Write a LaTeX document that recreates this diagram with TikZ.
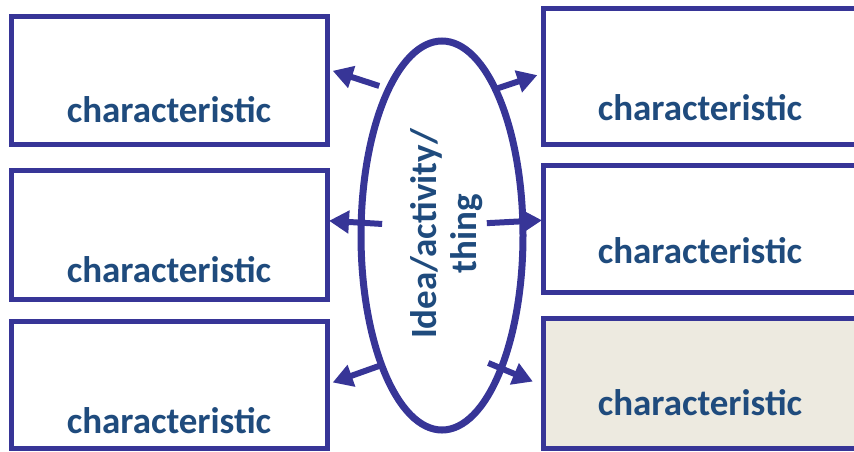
\documentclass[tikz,border=0pt]{standalone}
\usepackage{fontspec}
\setmainfont{Carlito}
\usetikzlibrary{arrows.meta,shapes.geometric}
\definecolor{lineblue}{HTML}{373597}
\definecolor{textblue}{HTML}{1F4B7D}
\definecolor{sandfill}{HTML}{EDEAE0}

\begin{document}
\begin{tikzpicture}[x=1pt,y=-1pt,
 box/.style={draw=lineblue,line width=5pt,minimum width=316pt,inner sep=0pt,outer sep=0pt},
 lbl/.style={anchor=base,text=textblue,font=\bfseries\fontsize{37}{40}\selectfont},
 arr/.style={-{Triangle[length=20pt,width=22pt]},line width=6pt,lineblue}]
\useasboundingbox (0,0) rectangle (854,451);
% left column
\node[box,minimum height=128pt] (lt) at (169,80) {};
\node[box,minimum height=129pt] (lm) at (169,234.5) {};
\node[box,minimum height=127pt] (lb) at (169,384.5) {};
% right column
\node[box,minimum height=136pt] (rt) at (701,76) {};
\node[box,minimum height=127pt] (rm) at (701,228.5) {};
\node[box,fill=sandfill,minimum height=130pt] (rb) at (701,383) {};
\node[lbl] (lt-txt) at (169,122) {characteristic};
\node[lbl] (lm-txt) at (169,282) {characteristic};
\node[lbl] (lb-txt) at (169,433) {characteristic};
\node[lbl] (rt-txt) at (700,120) {characteristic};
\node[lbl] (rm-txt) at (700,263) {characteristic};
\node[lbl] (rb-txt) at (700,415) {characteristic};
% centre
\node[ellipse,draw=lineblue,line width=7pt,minimum width=162pt,minimum height=389pt,
 inner sep=0pt,outer sep=0pt] (idea) at (442,235.5) {};
\node[lbl,anchor=center,rotate=90,align=center] (idea-txt) at (447,234) {Idea/activity/\\thing};
\draw[arr,shorten <=10pt,shorten >=6pt] (idea.110) -- (lt.4);
\draw[arr,shorten <=-21pt,shorten >=2pt] (idea.171) -- (lm.5);
\draw[arr,shorten <=2pt,shorten >=6pt] (idea.-115) -- (lb.east);
\draw[arr,shorten <=1pt,shorten >=6pt] (idea.70) -- (rt.179);
\draw[arr,shorten <=-36pt,shorten >=1pt] (idea.10) -- (rm.177);
\draw[arr,shorten <=-14pt,shorten >=11pt] (idea.-66) -- (rb.181);
\end{tikzpicture}
\end{document}
